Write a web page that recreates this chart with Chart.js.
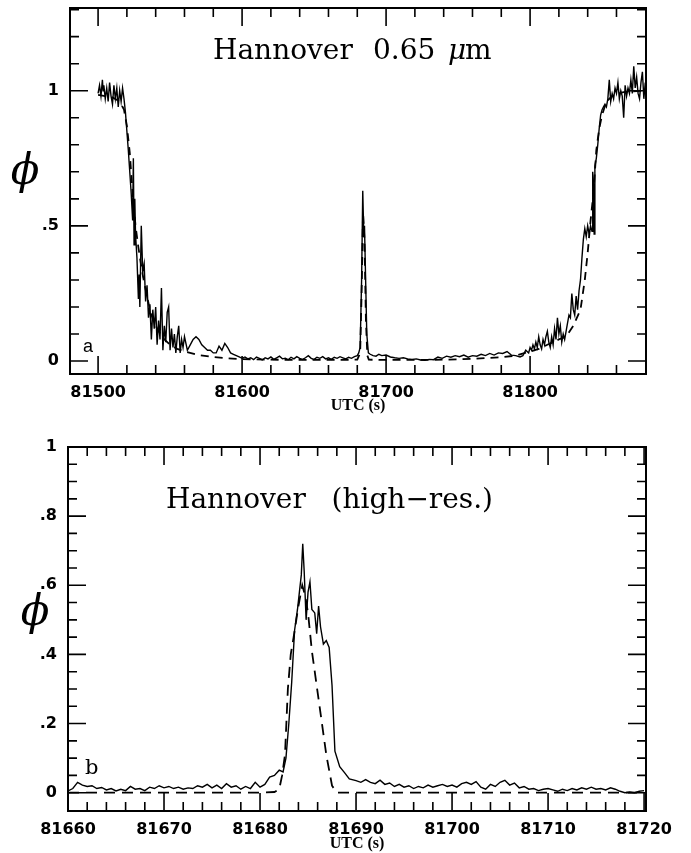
<!DOCTYPE html>
<html><head><meta charset="utf-8">
<script src="https://cdn.jsdelivr.net/npm/chart.js@4.4.0/dist/chart.umd.min.js"></script>
<style>
html,body{margin:0;padding:0;background:#fff;}
#wrap{position:relative;width:691px;height:853px;background:#fff;}
#c1{position:absolute;left:0;top:0;}
#c2{position:absolute;left:0;top:415px;}
</style></head><body>
<div id="wrap"><canvas id="c1" width="691" height="415"></canvas><canvas id="c2" width="691" height="438"></canvas></div>
<script>
// ---------- DATA (panel a) ----------
const topXLabels = [81500, 81600, 81700, 81800];
const topYLabels = [0, 0.5, 1];
const topObs = [
[81500,0.99],[81501,1.02],[81502,0.98],[81503,1.04],[81503.5,1.00],[81504,1.02],[81505,0.97],[81506,1.01],[81507,0.96],[81508,1.03],
[81509,0.98],[81510,0.95],[81511,1.02],[81512,0.97],[81513,1.01],[81514,0.94],[81515,1.00],[81516,0.96],[81517,1.01],[81518,0.97],
[81519,0.92],[81520,0.85],[81521,0.78],[81522,0.70],[81523,0.62],[81524,0.52],[81524.5,0.75],[81525,0.43],[81525.5,0.60],[81526,0.47],
[81527,0.38],[81528,0.23],[81528.5,0.32],[81529,0.20],[81530,0.50],[81531,0.33],[81532,0.36],[81533,0.22],[81534,0.28],[81535,0.16],
[81536,0.21],[81537,0.08],[81538,0.19],[81539,0.12],[81540,0.20],[81541,0.06],[81542,0.15],[81543,0.08],[81544,0.27],[81545,0.04],
[81546,0.13],[81547,0.07],[81548,0.18],[81549,0.20],[81550,0.04],[81551,0.12],[81552,0.05],[81553,0.10],[81554,0.03],[81555,0.09],
[81556,0.13],[81557,0.03],[81558,0.08],[81559,0.05],[81560,0.09],[81562,0.04],[81564,0.06],[81566,0.08],[81568,0.09],[81570,0.08],
[81572,0.06],[81574,0.05],[81576,0.04],[81578,0.04],[81580,0.03],[81582,0.03],[81584,0.055],[81586,0.04],[81588,0.065],[81590,0.05],
[81592,0.03],[81594,0.025],[81596,0.02],[81598,0.015],[81600,0.01],[81602,0.015],[81604,0.008],[81606,0.012],[81608,0.005],[81610,0.015],
[81612,0.01],[81614,0.004],[81616,0.012],[81618,0.008],[81620,0.015],[81622,0.006],[81624,0.012],[81626,0.018],[81628,0.008],[81630,0.01],
[81632,0.005],[81634,0.014],[81636,0.008],[81638,0.016],[81640,0.01],[81642,0.006],[81644,0.012],[81646,0.02],[81648,0.01],[81650,0.006],
[81652,0.014],[81654,0.01],[81656,0.016],[81658,0.008],[81660,0.012],[81662,0.006],[81664,0.014],[81666,0.01],[81668,0.016],[81670,0.012],
[81672,0.008],[81674,0.014],[81676,0.01],[81678,0.016],[81680,0.02],[81681,0.03],[81682,0.05],[81683,0.30],[81683.8,0.63],[81684.5,0.47],
[81685,0.50],[81685.8,0.30],[81686.6,0.10],[81687.7,0.03],[81689,0.025],[81691,0.02],[81693,0.018],[81695,0.025],[81697,0.02],[81700,0.022],
[81703,0.015],[81706,0.012],[81709,0.01],[81712,0.012],[81715,0.008],[81718,0.006],[81721,0.008],[81724,0.004],[81727,0.003],[81730,0.006],
[81733,0.005],[81736,0.015],[81739,0.01],[81742,0.018],[81745,0.014],[81748,0.02],[81751,0.016],[81754,0.022],[81757,0.014],[81760,0.02],
[81763,0.018],[81766,0.025],[81769,0.02],[81772,0.028],[81775,0.022],[81778,0.03],[81781,0.028],[81784,0.035],[81787,0.022],[81790,0.02],
[81793,0.015],[81795,0.02],[81797,0.04],[81799,0.03],[81800,0.05],[81801,0.04],[81802,0.06],[81803,0.045],[81804,0.07],[81805,0.05],
[81806,0.09],[81807,0.06],[81808,0.045],[81809,0.08],[81810,0.06],[81811,0.09],[81812,0.11],[81813,0.07],[81814,0.05],[81815,0.09],
[81816,0.06],[81817,0.12],[81818,0.08],[81819,0.16],[81820,0.10],[81821,0.13],[81822,0.07],[81823,0.10],[81824,0.08],[81825,0.11],
[81826,0.14],[81827,0.17],[81828,0.16],[81829,0.25],[81830,0.19],[81831,0.17],[81832,0.24],[81833,0.19],[81834,0.26],[81835,0.30],
[81836,0.38],[81837,0.45],[81838,0.49],[81839,0.46],[81840,0.50],[81841,0.47],[81842,0.50],[81843,0.48],[81843.5,0.70],[81844,0.66],
[81844.5,0.47],[81845,0.72],[81846,0.75],[81847,0.80],[81848,0.86],[81849,0.91],[81850,0.93],[81851,0.94],[81852,0.95],[81853,0.94],
[81854,0.97],[81855,1.04],[81856,0.96],[81857,0.99],[81858,0.97],[81859,1.01],[81860,0.99],[81861,1.03],[81862,0.97],[81863,1.00],
[81864,0.98],[81865,0.90],[81866,1.02],[81867,0.98],[81868,1.01],[81869,0.99],[81870,1.04],[81871,0.99],[81872,1.09],[81873,1.01],
[81874,1.05],[81875,0.99],[81876,0.97],[81877,1.03],[81878,1.07],[81879,0.97],[81880,1.03]
];
const topModel = [
[81500,0.985],[81505,0.98],[81510,0.975],[81515,0.96],[81518,0.93],[81520,0.87],[81522,0.77],[81524,0.62],[81526,0.50],[81528,0.42],
[81530,0.35],[81532,0.29],[81534,0.24],[81536,0.19],[81538,0.155],[81541,0.12],[81545,0.085],[81550,0.06],[81555,0.045],[81560,0.035],
[81570,0.022],[81580,0.015],[81590,0.01],[81600,0.007],[81620,0.005],[81640,0.004],[81660,0.004],[81680,0.005],[81682,0.03],[81683,0.25],
[81684,0.55],[81685,0.45],[81686,0.15],[81687,0.02],[81688,0.005],[81700,0.004],[81720,0.004],[81740,0.005],[81760,0.008],[81780,0.014],
[81790,0.02],[81800,0.035],[81806,0.045],[81812,0.06],[81820,0.08],[81825,0.09],[81830,0.13],[81835,0.19],[81838,0.30],[81840,0.40],
[81842,0.52],[81844,0.62],[81846,0.78],[81848,0.86],[81850,0.91],[81853,0.96],[81858,0.985],[81865,0.995],[81880,1.0]
];
// ---------- DATA (panel b) ----------
const botXLabels = [81660, 81670, 81680, 81690, 81700, 81710, 81720];
const botYLabels = [0, 0.2, 0.4, 0.6, 0.8, 1];
const botObs = [
[81660,0.005],[81660.5,0.012],[81661,0.03],[81661.5,0.022],[81662,0.018],[81662.5,0.02],[81663,0.012],[81663.5,0.015],[81664,0.008],[81664.5,0.012],
[81665,0.005],[81665.5,0.01],[81666,0.006],[81666.5,0.018],[81667,0.01],[81667.5,0.012],[81668,0.006],[81668.5,0.016],[81669,0.012],[81669.5,0.02],
[81670,0.014],[81670.5,0.018],[81671,0.012],[81671.5,0.016],[81672,0.01],[81672.5,0.014],[81673,0.012],[81673.5,0.02],[81674,0.016],[81674.5,0.024],
[81675,0.014],[81675.5,0.022],[81676,0.012],[81676.5,0.026],[81677,0.016],[81677.5,0.02],[81678,0.01],[81678.5,0.018],[81679,0.012],[81679.5,0.03],
[81680,0.016],[81680.5,0.024],[81681,0.045],[81681.5,0.05],[81682,0.065],[81682.4,0.06],[81682.7,0.10],[81683,0.20],[81683.3,0.32],[81683.6,0.47],
[81683.9,0.53],[81684.1,0.58],[81684.3,0.63],[81684.45,0.72],[81684.6,0.64],[81684.8,0.50],[81685.0,0.58],[81685.2,0.61],[81685.4,0.53],[81685.7,0.52],
[81685.9,0.46],[81686.1,0.54],[81686.3,0.48],[81686.6,0.43],[81686.9,0.44],[81687.2,0.42],[81687.5,0.31],[81687.8,0.12],[81688.3,0.075],[81688.8,0.058],
[81689.3,0.04],[81690,0.035],[81690.5,0.03],[81691,0.038],[81691.5,0.03],[81692,0.026],[81692.5,0.036],[81693,0.024],[81693.5,0.028],[81694,0.018],
[81694.5,0.024],[81695,0.016],[81695.5,0.02],[81696,0.012],[81696.5,0.018],[81697,0.014],[81697.5,0.022],[81698,0.016],[81698.5,0.02],[81699,0.024],
[81699.5,0.018],[81700,0.022],[81700.5,0.016],[81701,0.026],[81701.5,0.03],[81702,0.024],[81702.5,0.032],[81703,0.016],[81703.5,0.01],[81704,0.024],
[81704.5,0.018],[81705,0.03],[81705.5,0.036],[81706,0.022],[81706.5,0.028],[81707,0.014],[81707.5,0.018],[81708,0.01],[81708.5,0.012],[81709,0.006],
[81709.5,0.01],[81710,0.012],[81710.5,0.008],[81711,0.004],[81711.5,0.01],[81712,0.006],[81712.5,0.012],[81713,0.008],[81713.5,0.014],[81714,0.01],
[81714.5,0.016],[81715,0.01],[81715.5,0.012],[81716,0.008],[81716.5,0.014],[81717,0.01],[81717.5,0.004],[81718,0.0],[81718.5,0.002],[81719,0.0],
[81719.5,0.004],[81720,0.006]
];
const botModel = [
[81660,0.0],[81670,0.0],[81680,0.0],[81681.5,0.002],[81682,0.01],[81682.3,0.05],[81682.6,0.11],[81682.9,0.30],[81683.2,0.40],[81683.5,0.45],
[81684,0.54],[81684.4,0.60],[81684.7,0.57],[81685,0.52],[81685.4,0.41],[81685.9,0.31],[81686.4,0.21],[81686.9,0.11],[81687.5,0.02],[81688,0.0],
[81700,0.0],[81720,0.0]
];

// ---------- helpers ----------
const toXY = arr => arr.map(p => ({x: p[0], y: p[1]}));
const fmtY = v => v === 0 ? '0' : (v < 1 ? String(v).replace(/^0\./, '.') : String(v));
const range = (a, b, s) => { const r = []; for (let v = a; v <= b + 1e-9; v += s) r.push(+v.toFixed(6)); return r; };
const TICKFONT = {family: 'DejaVu Sans', weight: 'bold', size: 16};

function axisPlugin(o) {
  return {
    id: 'frameTicks',
    afterDraw(chart) {
      const {ctx, chartArea: a, scales: {x, y}} = chart;
      ctx.save();
      ctx.strokeStyle = '#000';
      ctx.lineWidth = 1.6;
      ctx.beginPath();
      const xt = (v, len) => { const px = x.getPixelForValue(v); if (px < a.left + 1 || px > a.right - 1) return;
        ctx.moveTo(px, a.bottom); ctx.lineTo(px, a.bottom - len); ctx.moveTo(px, a.top); ctx.lineTo(px, a.top + len); };
      const yt = (v, len) => { const py = y.getPixelForValue(v); if (py < a.top + 1 || py > a.bottom - 1) return;
        ctx.moveTo(a.left, py); ctx.lineTo(a.left + len, py); ctx.moveTo(a.right, py); ctx.lineTo(a.right - len, py); };
      o.xMinor.forEach(v => xt(v, 9)); o.xMajor.forEach(v => xt(v, 18));
      o.yMinor.forEach(v => yt(v, 9)); o.yMajor.forEach(v => yt(v, 18));
      ctx.stroke();
      ctx.lineWidth = 2;
      ctx.strokeRect(a.left, a.top, a.right - a.left, a.bottom - a.top);
      ctx.fillStyle = '#000';
      o.text(ctx);
      ctx.restore();
    }
  };
}

function makeChart(id, o) {
  return new Chart(document.getElementById(id), {
    type: 'scatter',
    data: {datasets: [
      {data: toXY(o.model), showLine: true, borderColor: '#000', borderWidth: 1.8, borderDash: o.dash, pointRadius: 0, tension: 0},
      {data: toXY(o.obs), showLine: true, borderColor: '#000', borderWidth: 1.4, pointRadius: 0, tension: 0}
    ]},
    options: {
      responsive: false, animation: false, devicePixelRatio: 1,
      plugins: {legend: {display: false}, tooltip: {enabled: false}},
      layout: {padding: o.pad},
      scales: {
        x: {type: 'linear', min: o.xmin, max: o.xmax,
          grid: {display: false, drawTicks: false}, border: {display: false},
          afterBuildTicks: s => { s.ticks = o.xLabels.map(v => ({value: v})); },
          afterFit: s => { s.height = o.xh; s.paddingLeft = 0; s.paddingRight = 0; },
          ticks: {padding: o.xpad, font: TICKFONT, color: '#000', maxRotation: 0, autoSkip: false, callback: v => String(v)},
          title: {display: true, text: 'UTC (s)', color: '#000', font: {family: 'Liberation Serif', weight: 'bold', size: 16}, padding: {top: 0, bottom: o.tpad}}
        },
        y: {type: 'linear', min: o.ymin, max: o.ymax,
          grid: {display: false, drawTicks: false}, border: {display: false},
          afterBuildTicks: s => { s.ticks = o.yLabels.map(v => ({value: v})); },
          afterFit: s => { s.width = o.yw; s.paddingTop = 0; s.paddingBottom = 0; },
          ticks: {padding: 11, font: TICKFONT, color: '#000', autoSkip: false, callback: fmtY}
        }
      }
    },
    plugins: [axisPlugin(o)]
  });
}

makeChart('c1', {
  obs: topObs, model: topModel, dash: [8, 6],
  xmin: 81480.5, xmax: 81880.5, ymin: -0.048, ymax: 1.306,
  xLabels: topXLabels, yLabels: topYLabels,
  xMajor: topXLabels, xMinor: range(81480, 81880, 20),
  yMajor: topYLabels, yMinor: range(0, 1.3, 0.1),
  pad: {top: 8, left: 0, right: 45, bottom: 0}, xh: 41, yw: 70, xpad: 9, tpad: 0,
  text(ctx) {
    ctx.textBaseline = 'alphabetic'; ctx.textAlign = 'left';
    ctx.font = '28px "DejaVu Serif"';
    ctx.fillText('Hannover', 213, 59);
    ctx.fillText('0.65', 373, 59);
    ctx.font = 'italic 28px "DejaVu Serif"';
    ctx.fillText('\u03bc', 448, 59);
    ctx.font = '28px "DejaVu Serif"';
    ctx.fillText('m', 465, 59);
    ctx.font = '18px "Liberation Sans"';
    ctx.fillText('a', 83, 352);
    ctx.font = 'italic 42px "DejaVu Serif"';
    ctx.textAlign = 'center'; ctx.textBaseline = 'middle';
    ctx.fillText('\u03d5', 25, 173);
  }
});

makeChart('c2', {
  obs: botObs, model: botModel, dash: [11, 7],
  xmin: 81660, xmax: 81720.2, ymin: -0.053, ymax: 1.0,
  xLabels: botXLabels, yLabels: botYLabels,
  xMajor: botXLabels, xMinor: range(81660, 81720, 2),
  yMajor: botYLabels, yMinor: range(0, 1, 0.05),
  pad: {top: 32, left: 0, right: 45, bottom: 0}, xh: 42, yw: 68, xpad: 9, tpad: 0,
  text(ctx) {
    ctx.textBaseline = 'alphabetic'; ctx.textAlign = 'left';
    ctx.font = '28px "DejaVu Serif"';
    ctx.fillText('Hannover', 166, 93);
    ctx.textAlign = 'right';
    ctx.fillText('(high\u2212res.)', 493, 93);
    ctx.textAlign = 'left';
    ctx.font = '21px "DejaVu Serif"';
    ctx.fillText('b', 85, 359);
    ctx.font = 'italic 42px "DejaVu Serif"';
    ctx.textAlign = 'center'; ctx.textBaseline = 'middle';
    ctx.fillText('\u03d5', 35, 199);
  }
});
</script>
</body></html>
